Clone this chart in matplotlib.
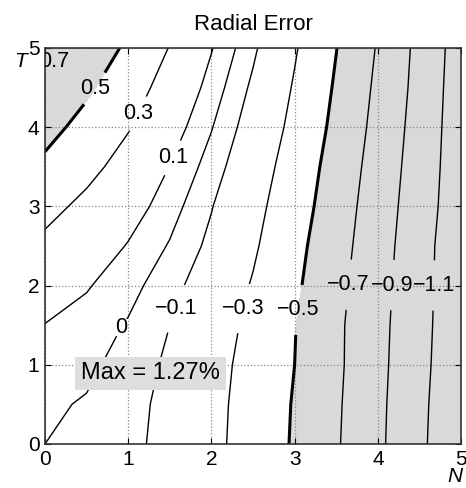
import numpy as np
import matplotlib
matplotlib.use('Agg')
import matplotlib.pyplot as plt

plt.rcParams['font.family'] = ['Liberation Sans', 'DejaVu Sans']

# grid (N horizontal, T vertical) and radial error values
n_vals = [0, 0.5, 1, 1.5, 2, 2.5, 3, 3.5, 4, 4.5, 5]
t_vals = [0, 0.5, 1, 1.5, 2, 2.5, 3, 3.5, 4, 4.5, 5]
err = np.array([
    [0.000, -0.016, -0.065, -0.145, -0.255, -0.378, -0.519, -0.681, -0.863, -1.060, -1.270],
    [0.011, -0.006, -0.055, -0.140, -0.250, -0.372, -0.513, -0.674, -0.858, -1.053, -1.262],
    [0.043, 0.015, -0.027, -0.126, -0.238, -0.361, -0.500, -0.664, -0.850, -1.042, -1.249],
    [0.097, 0.055, -0.009, -0.100, -0.216, -0.342, -0.494, -0.663, -0.844, -1.035, -1.240],
    [0.170, 0.110, 0.034, -0.058, -0.179, -0.313, -0.469, -0.645, -0.832, -1.028, -1.236],
    [0.260, 0.185, 0.092, -0.009, -0.129, -0.276, -0.445, -0.624, -0.816, -1.021, -1.235],
    [0.355, 0.257, 0.159, 0.044, -0.094, -0.245, -0.412, -0.600, -0.800, -1.004, -1.217],
    [0.460, 0.352, 0.231, 0.097, -0.044, -0.207, -0.383, -0.576, -0.779, -0.991, -1.209],
    [0.565, 0.436, 0.312, 0.162, 0.006, -0.164, -0.347, -0.546, -0.757, -0.977, -1.205],
    [0.670, 0.533, 0.385, 0.227, 0.057, -0.123, -0.316, -0.521, -0.736, -0.962, -1.200],
    [0.760, 0.633, 0.466, 0.293, 0.107, -0.077, -0.283, -0.496, -0.714, -0.952, -1.190],
])

levels = [-1.1, -0.9, -0.7, -0.5, -0.3, -0.1, 0, 0.1, 0.3, 0.5, 0.7]
thick = [-0.5, 0.5]
label_pos = [(0.14, 4.81), (0.62, 4.47), (1.10, 4.18), (1.56, 3.60), (0.96, 1.45),
             (1.62, 1.69), (2.46, 1.69), (3.06, 1.69), (3.75, 2.0), (4.27, 2.0), (4.72, 2.0)]
max_text = 'Max = 1.27%'

fig = plt.figure(figsize=(4.66, 4.88), dpi=100)
ax = fig.add_axes([0.0966, 0.0902, 0.8927, 0.8115])

# shaded zones beyond +-0.5
ax.contourf(n_vals, t_vals, err, levels=[-5, -0.5], colors=['#d9d9d9'])
ax.contourf(n_vals, t_vals, err, levels=[0.5, 5], colors=['#d9d9d9'])

lw = [2.2 if l in thick else 1.0 for l in levels]
cs = ax.contour(n_vals, t_vals, err, levels=levels, colors='k', linewidths=lw,
                linestyles='solid')
labels = ax.clabel(cs, fmt=lambda v: ('%g' % v).replace('-', '\u2212'), manual=label_pos,
                   fontsize=15.5, inline=True, inline_spacing=4)
for t in labels:
    t.set_rotation(0)

ax.text(1.27, 0.89, max_text, fontsize=17, ha='center', va='center',
        bbox=dict(boxstyle='square,pad=0.25', facecolor='#dedede', edgecolor='none'))

ax.set_xlim(0, 5)
ax.set_ylim(0, 5)
ax.set_xticks(range(6))
ax.set_yticks(range(6))
ax.grid(True, linestyle=':', color='#888888', linewidth=0.9)
ax.tick_params(direction='in', top=True, right=True, labelsize=15, pad=4, length=4)
for sp in ax.spines.values():
    sp.set_color('#333333')
    sp.set_linewidth(1.2)

ax.set_title('Radial Error', fontsize=16, pad=13)
ax.text(-0.06, 0.965, 'T', transform=ax.transAxes, style='italic', fontsize=15,
        ha='center', va='center')
ax.text(0.985, -0.058, 'N', transform=ax.transAxes, style='italic', fontsize=15,
        ha='center', va='top')

fig.savefig('out.png', dpi=100)
